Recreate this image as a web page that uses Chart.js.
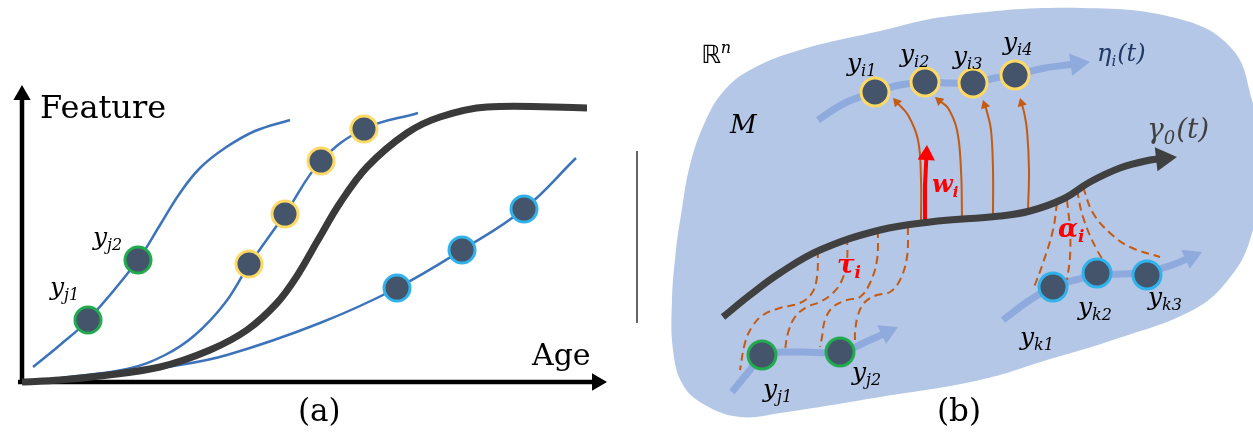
<!DOCTYPE html>
<html>
<head>
<meta charset="utf-8">
<script src="https://cdn.jsdelivr.net/npm/chart.js@4.4.0/dist/chart.umd.min.js"></script>
<style>
  html, body { margin: 0; padding: 0; background: #fff; }
  canvas { display: block; }
</style>
</head>
<body>
<canvas id="figura" width="1253" height="436"></canvas>
<script>
// --- Dados do painel (a): curvas individuais e curva média ---
const eixoY = [[22, 384], [22, 85]];
const eixoX = [[18, 382], [607, 382]];
const curvaJA = [[33, 367], [60, 345], [88, 320], [138, 260], [160, 225], [180, 193], [200, 168], [225, 148], [255, 131], [290, 120]];
const curvaIA = [[60, 378], [127, 369], [165, 355], [195, 335], [225, 303], [249, 265], [285, 214], [321, 161], [364, 129], [418, 113]];
const curvaKA = [[90, 377], [173, 366], [227, 355], [320, 323], [397, 288], [462, 250], [524, 209], [576, 158]];
const curvaMediaA = [[22, 382], [60, 380], [100, 376], [160, 367], [210, 350], [247, 330], [277, 303], [297, 276], [318, 240], [340, 203], [367, 167], [407, 133], [440, 117], [487, 107], [587, 108]];
const pontosJA = [[88, 320], [138, 260]];
const pontosIA = [[249, 264], [285, 214], [321, 161], [364, 129]];
const pontosKA = [[397, 288], [462, 250], [524, 209]];
const separador = [[637, 151], [637, 323]];

// --- Dados do painel (b): variedade M ---
const variedade = [[1265, 160], [1250, 240], [1228, 280], [1193, 310], [1113, 340], [1047, 360], [980, 380], [880, 397], [780, 413], [740, 417], [705, 405], [683, 385], [673, 350], [672, 300], [676, 250], [681, 215], [690, 165], [705, 122], [723, 92], [750, 70], [800, 50], [880, 31], [950, 16], [1083, 8], [1183, 20], [1233, 50], [1252, 100], [1265, 160]];
const gama0 = [[723, 317], [750, 295], [780, 273], [820, 250], [880, 230], [930, 222], [1000, 216], [1030, 211], [1063, 199], [1090, 182], [1120, 168], [1150, 160], [1177, 157]];
const caminhoI = [[818, 120], [845, 103], [875, 92], [900, 85], [925, 82], [950, 83], [973, 83], [995, 78], [1015, 75], [1045, 68], [1090, 62]];
const caminhoJ = [[732, 392], [750, 370], [762, 355], [800, 352], [840, 352], [870, 340], [898, 327]];
const caminhoK = [[1003, 320], [1030, 300], [1053, 287], [1075, 280], [1097, 275], [1120, 274], [1147, 272], [1175, 264], [1202, 252]];
const pontosIB = [[875, 92], [925, 82], [973, 83], [1015, 75]];
const pontosJB = [[762, 355], [840, 352]];
const pontosKB = [[1053, 287], [1097, 273], [1147, 275]];
const setaW = [[925, 221], [925, 185], [927, 145]];
const setasEspaco = [
    [[921, 222], [921, 180], [918, 140], [908, 115], [893, 98]],
    [[962, 218], [961, 170], [957, 130], [948, 108], [935, 97]],
    [[993, 214], [993, 170], [991, 130], [987, 112], [983, 100]],
    [[1028, 210], [1029, 170], [1027, 130], [1024, 112], [1020, 98]]
];
const tracosTau = [
    [[818, 250], [817, 277], [812, 293], [800, 303], [780, 308], [763, 315], [752, 327], [745, 343], [740, 370]],
    [[847, 237], [847, 260], [842, 280], [833, 293], [820, 302], [807, 307], [795, 317], [788, 333], [785, 350]],
    [[878, 230], [877, 260], [870, 283], [860, 297], [847, 300], [833, 307], [825, 320], [822, 337], [820, 347]],
    [[908, 227], [907, 257], [900, 280], [890, 292], [877, 295], [865, 302], [858, 315], [855, 333], [855, 340]]
];
const tracosAlfa = [
    [[1057, 203], [1053, 230], [1043, 263], [1033, 290]],
    [[1067, 200], [1070, 230], [1070, 257], [1067, 280]],
    [[1077, 190], [1083, 217], [1097, 250], [1112, 273]],
    [[1083, 187], [1093, 213], [1110, 233], [1130, 247], [1160, 257]]
];

// --- Textos: [texto, tipo] com tipo n = normal, b = subscrito, p = sobrescrito ---
const rotulos = [
    { x: 40, y: 118, tam: 32, estilo: '', cor: '#000', partes: [['Feature', 'n']] },
    { x: 532, y: 365, tam: 30, estilo: '', cor: '#000', partes: [['Age', 'n']] },
    { x: 298, y: 421, tam: 31, estilo: '', cor: '#000', partes: [['(a)', 'n']] },
    { x: 50, y: 295, tam: 25, estilo: 'italic', cor: '#000', partes: [['y', 'n'], ['j1', 'b']] },
    { x: 93, y: 245, tam: 25, estilo: 'italic', cor: '#000', partes: [['y', 'n'], ['j2', 'b']] },
    { x: 701, y: 63, tam: 25, estilo: '', cor: '#000', fonte: 'DejaVu Sans', partes: [['\u211D', 'n'], ['n', 'p']] },
    { x: 730, y: 133, tam: 26, estilo: 'italic', cor: '#000', partes: [['M', 'n']] },
    { x: 847, y: 71, tam: 25, estilo: 'italic', cor: '#000', partes: [['y', 'n'], ['i1', 'b']] },
    { x: 900, y: 62, tam: 25, estilo: 'italic', cor: '#000', partes: [['y', 'n'], ['i2', 'b']] },
    { x: 953, y: 64, tam: 25, estilo: 'italic', cor: '#000', partes: [['y', 'n'], ['i3', 'b']] },
    { x: 1003, y: 50, tam: 25, estilo: 'italic', cor: '#000', partes: [['y', 'n'], ['i4', 'b']] },
    { x: 1097, y: 61, tam: 24, estilo: 'italic', cor: '#1F3864', partes: [['\u03B7', 'n'], ['i', 'b'], ['(t)', 'n']] },
    { x: 1147, y: 138, tam: 28, estilo: 'italic', cor: '#404040', partes: [['\u03B3', 'n'], ['0', 'b'], ['(t)', 'n']] },
    { x: 932, y: 192, tam: 24, estilo: 'italic bold', cor: '#FF0000', partes: [['w', 'n'], ['i', 'b']] },
    { x: 837, y: 273, tam: 26, estilo: 'italic bold', cor: '#FF0000', partes: [['\u03C4', 'n'], ['i', 'b']] },
    { x: 1058, y: 237, tam: 26, estilo: 'italic bold', cor: '#FF0000', partes: [['\u03B1', 'n'], ['i', 'b']] },
    { x: 763, y: 397, tam: 25, estilo: 'italic', cor: '#000', partes: [['y', 'n'], ['j1', 'b']] },
    { x: 852, y: 380, tam: 25, estilo: 'italic', cor: '#000', partes: [['y', 'n'], ['j2', 'b']] },
    { x: 1020, y: 345, tam: 25, estilo: 'italic', cor: '#000', partes: [['y', 'n'], ['k1', 'b']] },
    { x: 1078, y: 315, tam: 25, estilo: 'italic', cor: '#000', partes: [['y', 'n'], ['k2', 'b']] },
    { x: 1148, y: 305, tam: 25, estilo: 'italic', cor: '#000', partes: [['y', 'n'], ['k3', 'b']] },
    { x: 937, y: 421, tam: 31, estilo: '', cor: '#000', partes: [['(b)', 'n']] }
];

// --- Cores ---
const corCurva = '#3C73BA';
const corMedia = '#3A3A3A';
const corPonto = '#44546A';
const corVerde = '#22AA4F';
const corAmarelo = '#FFD966';
const corAzul = '#31B2EA';
const corVariedade = '#B4C7E7';
const corCaminho = '#8FAADC';
const corLaranja = '#C55A11';

const pts = arr => arr.map(([x, y]) => ({ x, y }));

const linha = (arr, cor, largura, extra = {}) => ({
    data: pts(arr),
    showLine: true,
    borderColor: cor,
    borderWidth: largura,
    pointRadius: 0,
    tension: 0.4,
    fill: false,
    ...extra
});

const pontos = (arr, borda, raio) => ({
    data: pts(arr),
    showLine: false,
    pointRadius: raio,
    pointBackgroundColor: corPonto,
    pointBorderColor: borda,
    pointBorderWidth: 3
});

// linha que termina numa ponta de seta (triângulo rodado na direção do último trecho)
const seta = (arr, cor, largura, r, extra = {}) => {
    const [px, py] = arr[arr.length - 2];
    const [tx, ty] = arr[arr.length - 1];
    const comp = Math.hypot(tx - px, ty - py);
    const dx = (tx - px) / comp;
    const dy = (ty - py) / comp;
    const centro = [tx - dx * r, ty - dy * r];
    return [
        linha(arr.slice(0, -1).concat([centro]), cor, largura, extra),
        {
            data: pts([centro]),
            showLine: false,
            pointStyle: 'triangle',
            pointRadius: r,
            pointRotation: Math.atan2(dx, -dy) * 180 / Math.PI,
            pointBackgroundColor: cor,
            pointBorderWidth: 0
        }
    ];
};

const tracejado = { borderDash: [8, 5] };

const camadas = [
    // painel (a)
    linha(separador, '#333', 1.5, { tension: 0 }),
    linha(curvaJA, corCurva, 2.5),
    linha(curvaIA, corCurva, 2.5),
    linha(curvaKA, corCurva, 2.5),
    ...seta(eixoX, '#000', 4.5, 10, { tension: 0 }),
    ...seta(eixoY, '#000', 4.5, 10, { tension: 0 }),
    linha(curvaMediaA, corMedia, 7, { tension: 0.35 }),
    pontos(pontosJA, corVerde, 13),
    pontos(pontosIA, corAmarelo, 13),
    pontos(pontosKA, corAzul, 13),
    // painel (b)
    linha(variedade, 'transparent', 0, { fill: 'shape', backgroundColor: corVariedade }),
    ...seta(caminhoI, corCaminho, 7, 13),
    ...seta(caminhoJ, corCaminho, 7, 12),
    ...seta(caminhoK, corCaminho, 7, 12),
    ...tracosTau.map(t => linha(t, corLaranja, 2, tracejado)),
    ...tracosAlfa.map(t => linha(t, corLaranja, 2, tracejado)),
    ...setasEspaco.flatMap(s => seta(s, corLaranja, 2, 5.5)),
    ...seta(setaW, '#FF0000', 4, 10, { tension: 0 }),
    ...seta(gama0, '#404040', 7, 14),
    pontos(pontosIB, corAmarelo, 14),
    pontos(pontosJB, corVerde, 14),
    pontos(pontosKB, corAzul, 14)
];
camadas.forEach((ds, i) => { ds.order = camadas.length - i; });

const pluginRotulos = {
    id: 'rotulos',
    afterDatasetsDraw(chart) {
        const ctx = chart.ctx;
        const { x: escX, y: escY } = chart.scales;
        ctx.save();
        ctx.textAlign = 'left';
        ctx.textBaseline = 'alphabetic';
        rotulos.forEach(r => {
            let cx = escX.getPixelForValue(r.x);
            const base = escY.getPixelForValue(r.y);
            ctx.fillStyle = r.cor;
            r.partes.forEach(([t, tipo]) => {
                const tam = tipo === 'n' ? r.tam : Math.round(r.tam * 0.64);
                const desloc = tipo === 'b' ? r.tam * 0.2 : tipo === 'p' ? -r.tam * 0.42 : 0;
                const fonte = tipo === 'n' && r.fonte ? r.fonte : 'DejaVu Serif';
                const estilo = tipo === 'p' ? 'italic' : r.estilo;
                ctx.font = `${estilo} ${tam}px "${fonte}"`;
                ctx.fillText(t, cx, base + desloc);
                cx += ctx.measureText(t).width + (tipo === 'n' ? 0 : 1);
            });
        });
        ctx.restore();
    }
};

new Chart(document.getElementById('figura'), {
    type: 'scatter',
    data: { datasets: camadas },
    options: {
        responsive: false,
        animation: false,
        events: [],
        layout: { padding: 0, autoPadding: false },
        elements: { line: { capBezierPoints: false } },
        plugins: {
            legend: { display: false },
            tooltip: { enabled: false }
        },
        scales: {
            x: { type: 'linear', min: 0, max: 1253, display: false },
            y: { type: 'linear', min: 0, max: 436, reverse: true, display: false }
        }
    },
    plugins: [pluginRotulos]
});
</script>
</body>
</html>
